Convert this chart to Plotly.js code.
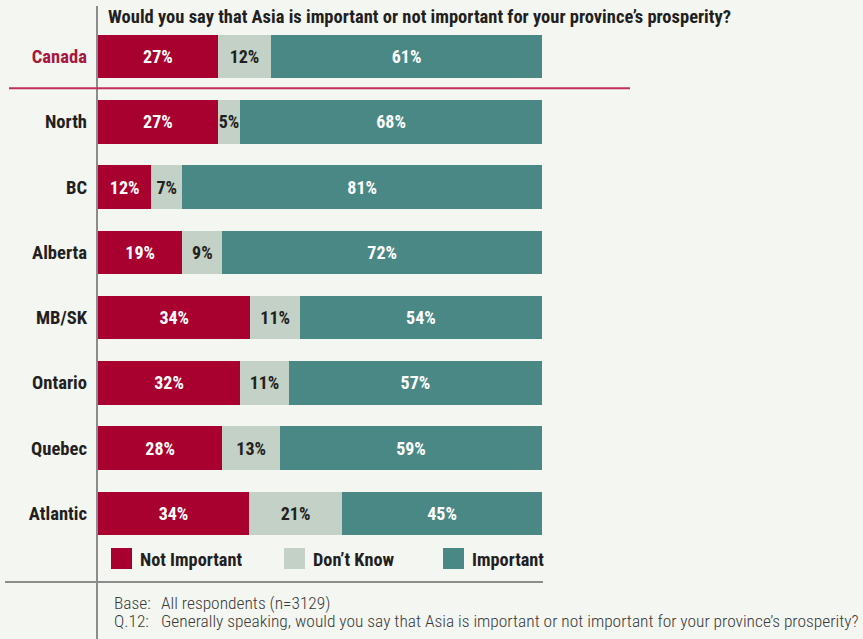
<!DOCTYPE html>
<html>
<head>
<meta charset="utf-8">
<script src="https://cdn.plot.ly/plotly-3.0.1.min.js"></script>
<style>html,body{margin:0;padding:0;background:#F4F6F1;}#chart{width:863px;height:639px;}</style>
</head>
<body>
<div id="chart"></div>
<script>
// ---- data ----
const categories = ["Canada", "North", "BC", "Alberta", "MB/SK", "Ontario", "Quebec", "Atlantic"];
const notImportant = [27, 27, 12, 19, 34, 32, 28, 34];
const dontKnow     = [12, 5, 7, 9, 11, 11, 13, 21];
const important    = [61, 68, 81, 72, 54, 57, 59, 45];
const seriesNames  = ["Not Important", "Don\u2019t Know", "Important"];
const chartTitle   = "Would you say that Asia is important or not important for your province\u2019s prosperity?";
const baseLabel = "Base:", baseText = "All respondents (n=3129)";
const qLabel = "Q.12:", qText = "Generally speaking, would you say that Asia is important or not important for your province\u2019s prosperity?";

// ---- styling ----
const W = 863, H = 639;
const M = {l: 98, r: 321, t: 24, b: 93};
const PW = W - M.l - M.r, PH = H - M.t - M.b;
const px = x => (x - M.l) / PW;           // pixel -> paper x
const py = y => (H - M.b - y) / PH;        // pixel -> paper y
const FONT = "'Roboto Condensed', 'Open Sans', sans-serif";
const RED = "#A8002F", GREY = "#C3D1C6", TEAL = "#4A8886", DARK = "#231F20";
const colors = [RED, GREY, TEAL];
const textColors = ["#FFFFFF", DARK, "#FFFFFF"];
const values = [notImportant, dontKnow, important];

const traces = values.map((vals, i) => ({
  type: "bar",
  orientation: "h",
  name: seriesNames[i],
  y: categories,
  x: vals,
  text: vals.map(v => v + "%"),
  textposition: "inside",
  insidetextanchor: "middle",
  constraintext: "none",
  textangle: 0,
  textfont: {family: FONT, size: 18, weight: 700, color: textColors[i]},
  marker: {color: colors[i], line: {width: 0}},
  hoverinfo: "none",
  showlegend: false
}));

const ticktext = categories.map(c => c === "Canada" ? '<span style="color:#A8173F">' + c + '</span>' : c);

const shapes = [
  {type: "line", xref: "paper", yref: "paper", x0: px(97), x1: px(97), y0: py(6), y1: py(639), line: {color: "#8C8C8C", width: 2}},
  {type: "line", xref: "paper", yref: "paper", x0: px(9), x1: px(630), y0: py(88.3), y1: py(88.3), line: {color: "#C2305A", width: 2}},
  {type: "line", xref: "paper", yref: "paper", x0: px(5), x1: px(543), y0: py(582), y1: py(582), line: {color: "#8C8C8C", width: 2}}
];
const legendX = [111, 284, 443];
const FOOT = {family: FONT, size: 17.4, weight: 300, color: "#3A3A3A"};
const annotations = [
  {xref: "paper", yref: "paper", x: px(106), y: py(17), xanchor: "left", yanchor: "middle", showarrow: false,
   text: chartTitle, font: {family: FONT, size: 18.5, weight: 700, color: DARK}},
  {xref: "paper", yref: "paper", x: px(112), y: py(603), xanchor: "left", yanchor: "middle", showarrow: false,
   text: baseLabel, font: FOOT},
  {xref: "paper", yref: "paper", x: px(159), y: py(603), xanchor: "left", yanchor: "middle", showarrow: false,
   text: baseText, font: FOOT},
  {xref: "paper", yref: "paper", x: px(112), y: py(621), xanchor: "left", yanchor: "middle", showarrow: false,
   text: qLabel, font: FOOT},
  {xref: "paper", yref: "paper", x: px(159), y: py(621), xanchor: "left", yanchor: "middle", showarrow: false,
   text: qText, font: FOOT}
];
seriesNames.forEach((n, i) => {
  shapes.push({type: "rect", xref: "paper", yref: "paper", x0: px(legendX[i]), x1: px(legendX[i] + 21),
    y0: py(548), y1: py(569), fillcolor: colors[i], line: {width: 0}});
  annotations.push({xref: "paper", yref: "paper", x: px(legendX[i] + 27), y: py(559), xanchor: "left", yanchor: "middle",
    showarrow: false, text: n, font: {family: FONT, size: 18.3, weight: 700, color: DARK}});
});

const layout = {
  width: W, height: H,
  margin: M,
  paper_bgcolor: "#F4F6F1",
  plot_bgcolor: "#F4F6F1",
  barmode: "stack",
  barnorm: "percent",
  bargap: 0.335,
  xaxis: {range: [0, 100], visible: false, fixedrange: true},
  yaxis: {
    type: "category", autorange: "reversed",
    tickvals: categories, ticktext: ticktext,
    showline: false, showgrid: false, zeroline: false, ticks: "",
    ticklabelstandoff: 10,
    tickfont: {family: FONT, size: 18.6, weight: 700, color: DARK},
    fixedrange: true
  },
  showlegend: false,
  shapes: shapes,
  annotations: annotations
};

Plotly.newPlot("chart", traces, layout, {displayModeBar: false, staticPlot: true});
</script>
</body>
</html>
